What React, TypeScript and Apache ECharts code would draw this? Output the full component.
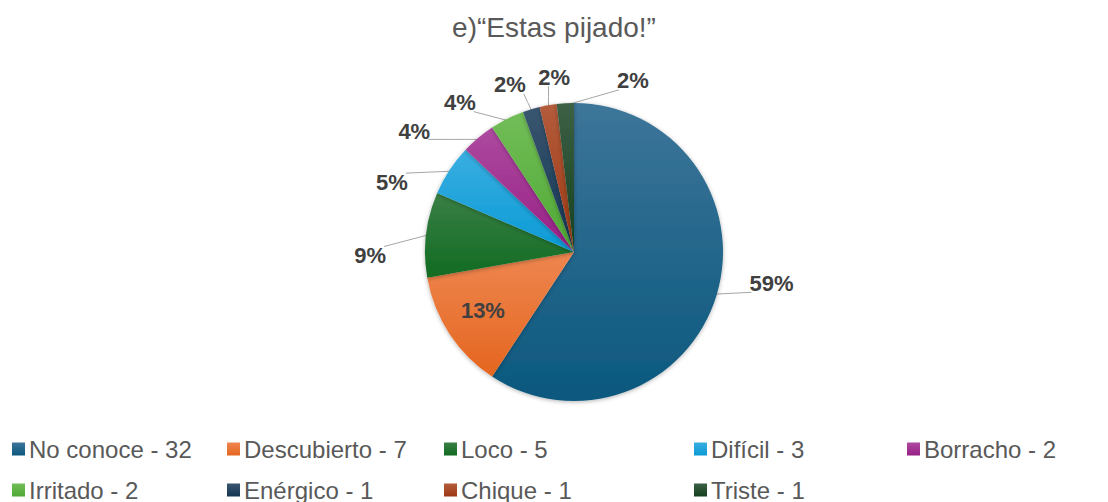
import React, { useEffect, useRef } from "react";
import * as echarts from "echarts";

const titleText = "e)“Estas pijado!”";
const categories = ["No conoce", "Descubierto", "Loco", "Difícil", "Borracho", "Irritado", "Enérgico", "Chique", "Triste"];
const values = [32, 7, 5, 3, 2, 2, 1, 1, 1];
const topColors = ["#3d7599", "#ee8650", "#3a7f45", "#3aaee0", "#ad4a9f", "#72bd58", "#3a5670", "#b35c3c", "#3d6045"];
const bottomColors = ["#0b587e", "#e5661f", "#116b22", "#0a9ad6", "#971f86", "#4fa934", "#133552", "#9c3812", "#14401f"];

// layout constants (label placement in polar terms around the pie centre)
const CENTER = [574, 252];
const RADIUS = 149;
const labelAngles = [99, 237.5, 269, 291, 307, 322.6, 339, 353.5, 19];
const labelDist = [200, 108, 204, 195, 200, 188, 179, 176, 181];
const legendCols = [12, 227, 444, 694, 907];
const legendRows = [437, 478];

export default function App() {
  const ref = useRef<HTMLDivElement>(null);
  useEffect(() => {
    if (!ref.current) return;
    const chart = echarts.init(ref.current, null, { renderer: "svg" });
    const names = categories.map((c, i) => `${c} - ${values[i]}`);
    const total = values.reduce((a, b) => a + b, 0);
    const midAngles: number[] = [];
    let acc = 0;
    values.forEach((v) => {
      midAngles.push(((acc + v / 2) / total) * 360);
      acc += v;
    });
    const data = names.map((n, i) => ({
      name: n,
      value: values[i],
      itemStyle: {
        color: new echarts.graphic.LinearGradient(0, 0, 0, 1, [
          { offset: 0, color: topColors[i] },
          { offset: 1, color: bottomColors[i] },
        ]),
      },
      labelLine: i === 1 ? { show: false } : undefined,
    }));
    const legends = names.map((n, i) => ({
      orient: "horizontal",
      left: legendCols[i % 5],
      top: legendRows[Math.floor(i / 5)],
      padding: 0,
      itemWidth: 13,
      itemHeight: 13,
      itemGap: 0,
      icon: "rect",
      selectedMode: false,
      data: [n],
      textStyle: { fontFamily: "Liberation Sans, Arial", fontSize: 24, lineHeight: 24, color: "#595959", padding: [0, 0, 0, -1] },
    }));
    const rad = (d: number) => (d * Math.PI) / 180;
    chart.setOption({
      animation: false,
      title: {
        text: titleText,
        left: "center",
        top: 8,
        textStyle: { fontFamily: "Liberation Sans, Arial", fontSize: 28, fontWeight: "normal", color: "#595959" },
      },
      legend: legends,
      series: [
        {
          type: "pie",
          center: CENTER,
          radius: RADIUS,
          startAngle: 90,
          clockwise: true,
          percentPrecision: 0,
          data,
          itemStyle: { shadowBlur: 4, shadowColor: "rgba(0,0,0,0.3)", shadowOffsetY: 1 },
          label: {
            show: true,
            position: "outside",
            formatter: "{d}%",
            fontFamily: "Liberation Sans, Arial",
            fontSize: 22,
            fontWeight: "bold",
            color: "#404040",
          },
          labelLine: { show: true, length: 18, length2: 12, lineStyle: { color: "#a6a6a6", width: 1 } },
          labelLayout: (params: any) => {
            const i = params.dataIndex;
            const a = rad(labelAngles[i]);
            const cx = CENTER[0] + labelDist[i] * Math.sin(a);
            const cy = CENTER[1] - labelDist[i] * Math.cos(a);
            const w = params.labelRect.width;
            const h = params.labelRect.height;
            const m = rad(midAngles[i]);
            const ex = CENTER[0] + (RADIUS - 2) * Math.sin(m);
            const ey = CENTER[1] - (RADIUS - 2) * Math.cos(m);
            const rx = cx - w / 2 + 2;
            const ry = cy - h / 2 + 2;
            const px = Math.min(Math.max(ex, rx), rx + w - 4);
            const py = Math.min(Math.max(ey, ry), ry + h - 4);
            return {
              x: cx,
              y: cy,
              align: "center",
              verticalAlign: "middle",
              labelLinePoints: [
                [ex, ey],
                [(ex + px) / 2, (ey + py) / 2],
                [px, py],
              ],
            };
          },
          emphasis: { disabled: true },
        },
      ],
    });
    return () => chart.dispose();
  }, []);
  return <div ref={ref} style={{ position: "absolute", left: 0, top: 0, width: 1108, height: 502 }} />;
}
